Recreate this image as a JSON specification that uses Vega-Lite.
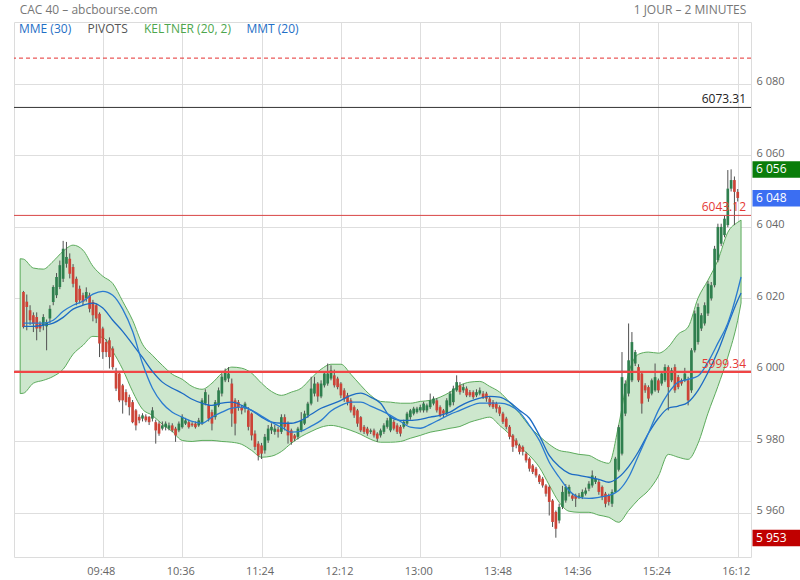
{
"$schema": "https://vega.github.io/schema/vega-lite/v6.json",
"width": 737, "height": 535,
"autosize": "none",
"padding": {"left": 14, "top": 22, "right": 49, "bottom": 23},
"background": "#ffffff",
"config": {
  "view": {"stroke": "#dcdcdc"},
  "font": "Open Sans",
  "locale": {"number": {"decimal": ".", "thousands": " ", "grouping": [3], "currency": ["", ""]}}
},
"datasets": {
"candles": [
{"t":540,"o":6021.7,"h":6022.0,"l":6011.5,"c":6011.9},
{"t":542,"o":6019.0,"h":6021.0,"l":6011.0,"c":6017.5},
{"t":544,"o":6016.6,"h":6018.0,"l":6012.5,"c":6013.8},
{"t":546,"o":6015.2,"h":6016.0,"l":6010.5,"c":6012.8},
{"t":548,"o":6014.7,"h":6016.0,"l":6008.2,"c":6011.5},
{"t":550,"o":6012.8,"h":6013.5,"l":6010.5,"c":6011.5},
{"t":552,"o":6012.4,"h":6015.5,"l":6011.0,"c":6014.7},
{"t":554,"o":6012.1,"h":6014.0,"l":6005.4,"c":6013.3},
{"t":556,"o":6014.3,"h":6018.0,"l":6013.0,"c":6017.0},
{"t":558,"o":6018.9,"h":6023.6,"l":6018.0,"c":6023.1},
{"t":560,"o":6020.8,"h":6027.0,"l":6020.0,"c":6025.9},
{"t":562,"o":6023.1,"h":6030.5,"l":6022.5,"c":6029.2},
{"t":564,"o":6025.4,"h":6036.0,"l":6024.5,"c":6033.8},
{"t":566,"o":6029.6,"h":6035.7,"l":6028.5,"c":6031.5},
{"t":568,"o":6031.0,"h":6032.5,"l":6025.5,"c":6026.8},
{"t":570,"o":6028.7,"h":6029.5,"l":6023.0,"c":6024.0},
{"t":572,"o":6025.4,"h":6026.0,"l":6018.0,"c":6018.9},
{"t":574,"o":6022.6,"h":6023.5,"l":6018.5,"c":6019.4},
{"t":576,"o":6020.8,"h":6021.5,"l":6018.0,"c":6018.9},
{"t":578,"o":6019.9,"h":6023.0,"l":6019.0,"c":6021.7},
{"t":580,"o":6020.8,"h":6021.5,"l":6016.0,"c":6017.0},
{"t":582,"o":6018.9,"h":6019.5,"l":6013.5,"c":6015.2},
{"t":584,"o":6018.0,"h":6018.5,"l":6013.0,"c":6014.3},
{"t":586,"o":6015.6,"h":6016.0,"l":6003.5,"c":6007.3},
{"t":588,"o":6011.5,"h":6012.0,"l":6003.0,"c":6004.9},
{"t":590,"o":6007.7,"h":6008.5,"l":6003.5,"c":6004.9},
{"t":592,"o":6008.2,"h":6009.0,"l":6000.3,"c":6003.5},
{"t":594,"o":6005.9,"h":6006.5,"l":6000.0,"c":6000.7},
{"t":596,"o":5999.3,"h":6000.5,"l":5994.0,"c":5994.7},
{"t":598,"o":5998.9,"h":5999.5,"l":5990.9,"c":5991.4},
{"t":600,"o":5995.6,"h":5996.0,"l":5987.7,"c":5991.4},
{"t":602,"o":5993.7,"h":5994.5,"l":5990.0,"c":5990.9},
{"t":604,"o":5992.3,"h":5993.0,"l":5987.2,"c":5989.5},
{"t":606,"o":5990.9,"h":5991.5,"l":5985.0,"c":5985.3},
{"t":608,"o":5988.6,"h":5989.0,"l":5983.0,"c":5984.4},
{"t":610,"o":5986.8,"h":5987.5,"l":5985.0,"c":5985.8},
{"t":612,"o":5986.3,"h":5987.8,"l":5985.5,"c":5987.2},
{"t":614,"o":5986.9,"h":5987.5,"l":5985.3,"c":5985.8},
{"t":616,"o":5986.8,"h":5987.0,"l":5984.5,"c":5985.3},
{"t":618,"o":5986.3,"h":5989.5,"l":5985.5,"c":5988.6},
{"t":620,"o":5985.3,"h":5986.0,"l":5979.3,"c":5983.0},
{"t":622,"o":5984.9,"h":5985.5,"l":5981.5,"c":5982.1},
{"t":624,"o":5983.5,"h":5985.5,"l":5983.0,"c":5984.4},
{"t":626,"o":5983.9,"h":5985.5,"l":5983.0,"c":5984.9},
{"t":628,"o":5983.5,"h":5985.2,"l":5983.0,"c":5984.4},
{"t":630,"o":5984.4,"h":5985.0,"l":5982.5,"c":5983.0},
{"t":632,"o":5983.5,"h":5984.0,"l":5979.8,"c":5981.6},
{"t":634,"o":5983.0,"h":5985.5,"l":5982.5,"c":5984.9},
{"t":636,"o":5983.9,"h":5987.5,"l":5983.5,"c":5986.8},
{"t":638,"o":5984.9,"h":5986.5,"l":5984.5,"c":5985.8},
{"t":640,"o":5985.3,"h":5986.0,"l":5983.5,"c":5983.9},
{"t":642,"o":5984.9,"h":5985.3,"l":5984.0,"c":5984.4},
{"t":644,"o":5984.9,"h":5985.5,"l":5983.5,"c":5983.9},
{"t":646,"o":5984.4,"h":5986.5,"l":5984.0,"c":5985.8},
{"t":648,"o":5984.9,"h":5992.0,"l":5984.5,"c":5991.4},
{"t":650,"o":5990.5,"h":5994.5,"l":5990.0,"c":5993.7},
{"t":652,"o":5990.0,"h":5993.0,"l":5985.5,"c":5986.3},
{"t":654,"o":5988.1,"h":5988.8,"l":5983.0,"c":5984.9},
{"t":656,"o":5986.7,"h":5991.5,"l":5986.0,"c":5990.9},
{"t":658,"o":5990.0,"h":5995.0,"l":5989.5,"c":5994.2},
{"t":660,"o":5993.3,"h":5998.8,"l":5992.5,"c":5998.0},
{"t":662,"o":5997.0,"h":6000.3,"l":5996.5,"c":5999.3},
{"t":664,"o":5997.5,"h":6000.7,"l":5996.5,"c":5998.9},
{"t":666,"o":5996.1,"h":5997.5,"l":5984.0,"c":5987.7},
{"t":668,"o":5991.4,"h":5992.0,"l":5981.6,"c":5984.9},
{"t":670,"o":5990.9,"h":5991.5,"l":5988.5,"c":5989.5},
{"t":672,"o":5989.5,"h":5990.0,"l":5987.5,"c":5988.6},
{"t":674,"o":5989.1,"h":5991.0,"l":5988.0,"c":5990.5},
{"t":676,"o":5988.6,"h":5989.5,"l":5983.0,"c":5984.0},
{"t":678,"o":5987.7,"h":5988.0,"l":5980.2,"c":5981.6},
{"t":680,"o":5982.1,"h":5983.0,"l":5977.5,"c":5978.4},
{"t":682,"o":5979.3,"h":5980.0,"l":5974.6,"c":5976.0},
{"t":684,"o":5978.8,"h":5979.5,"l":5975.0,"c":5976.5},
{"t":686,"o":5977.4,"h":5982.0,"l":5976.5,"c":5981.2},
{"t":688,"o":5980.2,"h":5984.5,"l":5979.5,"c":5983.5},
{"t":690,"o":5983.0,"h":5985.0,"l":5982.0,"c":5984.0},
{"t":692,"o":5982.6,"h":5984.5,"l":5981.8,"c":5983.5},
{"t":694,"o":5983.3,"h":5984.0,"l":5981.0,"c":5982.6},
{"t":696,"o":5982.6,"h":5987.5,"l":5982.0,"c":5986.7},
{"t":698,"o":5986.7,"h":5987.5,"l":5983.0,"c":5984.0},
{"t":700,"o":5984.9,"h":5985.5,"l":5979.3,"c":5981.6},
{"t":702,"o":5983.0,"h":5983.5,"l":5979.0,"c":5979.8},
{"t":704,"o":5981.6,"h":5982.0,"l":5980.0,"c":5980.7},
{"t":706,"o":5981.2,"h":5984.0,"l":5980.5,"c":5983.5},
{"t":708,"o":5983.0,"h":5988.1,"l":5982.5,"c":5985.8},
{"t":710,"o":5984.9,"h":5988.5,"l":5984.5,"c":5987.7},
{"t":712,"o":5987.2,"h":5991.0,"l":5986.5,"c":5990.5},
{"t":714,"o":5990.5,"h":5998.0,"l":5990.0,"c":5994.7},
{"t":716,"o":5993.3,"h":5998.0,"l":5992.5,"c":5996.1},
{"t":718,"o":5996.1,"h":5996.5,"l":5991.0,"c":5992.5},
{"t":720,"o":5992.5,"h":5997.0,"l":5992.0,"c":5996.1},
{"t":722,"o":5995.6,"h":5999.5,"l":5995.0,"c":5998.9},
{"t":724,"o":5996.1,"h":6001.7,"l":5995.5,"c":5998.9},
{"t":726,"o":5997.5,"h":6001.2,"l":5997.0,"c":5999.8},
{"t":728,"o":5998.4,"h":6000.0,"l":5995.0,"c":5995.6},
{"t":730,"o":5997.5,"h":5998.0,"l":5994.5,"c":5995.1},
{"t":732,"o":5996.1,"h":5996.5,"l":5992.0,"c":5992.8},
{"t":734,"o":5994.2,"h":5994.8,"l":5991.0,"c":5991.9},
{"t":736,"o":5992.8,"h":5993.5,"l":5990.0,"c":5990.9},
{"t":738,"o":5991.4,"h":5992.0,"l":5988.0,"c":5988.6},
{"t":740,"o":5989.5,"h":5990.0,"l":5986.5,"c":5987.2},
{"t":742,"o":5988.6,"h":5989.0,"l":5984.0,"c":5984.9},
{"t":744,"o":5986.7,"h":5987.0,"l":5982.5,"c":5983.0},
{"t":746,"o":5984.0,"h":5984.5,"l":5982.0,"c":5982.6},
{"t":748,"o":5983.5,"h":5984.0,"l":5981.5,"c":5982.1},
{"t":750,"o":5982.6,"h":5983.5,"l":5982.0,"c":5983.0},
{"t":752,"o":5983.0,"h":5983.5,"l":5981.0,"c":5981.6},
{"t":754,"o":5982.1,"h":5982.5,"l":5979.8,"c":5980.7},
{"t":756,"o":5981.6,"h":5983.5,"l":5981.0,"c":5983.0},
{"t":758,"o":5982.6,"h":5985.0,"l":5982.0,"c":5984.4},
{"t":760,"o":5984.0,"h":5986.5,"l":5983.5,"c":5985.8},
{"t":762,"o":5983.0,"h":5987.2,"l":5982.5,"c":5986.7},
{"t":764,"o":5985.4,"h":5986.0,"l":5983.0,"c":5983.5},
{"t":766,"o":5984.4,"h":5985.0,"l":5982.0,"c":5982.6},
{"t":768,"o":5984.0,"h":5984.5,"l":5981.3,"c":5982.1},
{"t":770,"o":5984.0,"h":5986.0,"l":5983.5,"c":5985.4},
{"t":772,"o":5984.9,"h":5988.2,"l":5984.5,"c":5987.7},
{"t":774,"o":5986.7,"h":5989.0,"l":5986.0,"c":5988.6},
{"t":776,"o":5987.7,"h":5989.6,"l":5987.2,"c":5989.1},
{"t":778,"o":5988.1,"h":5989.6,"l":5987.7,"c":5989.1},
{"t":780,"o":5988.6,"h":5990.2,"l":5988.0,"c":5989.5},
{"t":782,"o":5988.6,"h":5991.0,"l":5988.0,"c":5990.5},
{"t":784,"o":5988.6,"h":5990.5,"l":5988.0,"c":5990.0},
{"t":786,"o":5989.5,"h":5993.3,"l":5989.0,"c":5991.4},
{"t":788,"o":5990.5,"h":5992.5,"l":5990.0,"c":5991.9},
{"t":790,"o":5991.4,"h":5992.0,"l":5988.0,"c":5988.6},
{"t":792,"o":5989.5,"h":5990.0,"l":5986.7,"c":5987.2},
{"t":794,"o":5988.6,"h":5989.0,"l":5986.7,"c":5987.7},
{"t":796,"o":5987.7,"h":5992.0,"l":5987.2,"c":5991.4},
{"t":798,"o":5990.0,"h":5994.0,"l":5989.5,"c":5993.3},
{"t":800,"o":5990.9,"h":5995.5,"l":5990.0,"c":5994.7},
{"t":802,"o":5994.2,"h":5998.4,"l":5993.8,"c":5996.5},
{"t":804,"o":5995.6,"h":5996.5,"l":5993.0,"c":5993.7},
{"t":806,"o":5994.2,"h":5996.0,"l":5993.5,"c":5995.1},
{"t":808,"o":5994.7,"h":5995.3,"l":5992.3,"c":5992.8},
{"t":810,"o":5993.7,"h":5994.3,"l":5992.3,"c":5992.8},
{"t":812,"o":5993.7,"h":5994.2,"l":5991.8,"c":5992.3},
{"t":814,"o":5992.8,"h":5994.5,"l":5992.3,"c":5993.7},
{"t":816,"o":5993.3,"h":5995.0,"l":5992.8,"c":5994.2},
{"t":818,"o":5993.3,"h":5994.0,"l":5991.8,"c":5992.3},
{"t":820,"o":5993.3,"h":5993.8,"l":5991.0,"c":5991.9},
{"t":822,"o":5991.9,"h":5992.5,"l":5989.5,"c":5990.0},
{"t":824,"o":5990.9,"h":5991.5,"l":5989.0,"c":5989.5},
{"t":826,"o":5990.5,"h":5991.0,"l":5988.0,"c":5989.1},
{"t":828,"o":5989.5,"h":5990.0,"l":5987.0,"c":5987.7},
{"t":830,"o":5987.7,"h":5988.2,"l":5984.8,"c":5985.4},
{"t":832,"o":5986.3,"h":5986.8,"l":5983.3,"c":5984.0},
{"t":834,"o":5984.0,"h":5984.5,"l":5980.5,"c":5981.2},
{"t":836,"o":5981.6,"h":5982.0,"l":5977.0,"c":5978.4},
{"t":838,"o":5980.2,"h":5980.8,"l":5978.0,"c":5978.8},
{"t":840,"o":5978.8,"h":5979.3,"l":5976.3,"c":5977.0},
{"t":842,"o":5978.4,"h":5978.8,"l":5976.0,"c":5977.0},
{"t":844,"o":5976.5,"h":5977.0,"l":5974.0,"c":5974.6},
{"t":846,"o":5975.1,"h":5975.5,"l":5971.5,"c":5972.3},
{"t":848,"o":5973.2,"h":5973.6,"l":5970.8,"c":5971.4},
{"t":850,"o":5972.3,"h":5972.8,"l":5969.8,"c":5970.4},
{"t":852,"o":5970.4,"h":5970.8,"l":5968.0,"c":5968.6},
{"t":854,"o":5969.5,"h":5970.0,"l":5967.0,"c":5967.6},
{"t":856,"o":5967.6,"h":5968.0,"l":5964.5,"c":5965.3},
{"t":858,"o":5967.2,"h":5967.6,"l":5959.2,"c":5963.0},
{"t":860,"o":5963.4,"h":5963.8,"l":5956.0,"c":5957.4},
{"t":862,"o":5960.2,"h":5960.6,"l":5953.0,"c":5955.5},
{"t":864,"o":5957.8,"h":5962.5,"l":5957.0,"c":5961.6},
{"t":866,"o":5961.6,"h":5967.5,"l":5961.0,"c":5965.8},
{"t":868,"o":5963.4,"h":5968.0,"l":5962.8,"c":5967.2},
{"t":870,"o":5965.3,"h":5967.8,"l":5964.5,"c":5967.2},
{"t":872,"o":5964.8,"h":5965.5,"l":5963.3,"c":5963.9},
{"t":874,"o":5964.8,"h":5965.3,"l":5961.6,"c":5963.9},
{"t":876,"o":5964.4,"h":5965.5,"l":5963.8,"c":5964.8},
{"t":878,"o":5964.4,"h":5966.5,"l":5963.8,"c":5965.8},
{"t":880,"o":5965.3,"h":5967.0,"l":5964.8,"c":5966.2},
{"t":882,"o":5966.7,"h":5968.8,"l":5966.0,"c":5968.1},
{"t":884,"o":5967.6,"h":5971.8,"l":5967.0,"c":5970.4},
{"t":886,"o":5968.6,"h":5970.2,"l":5968.0,"c":5969.5},
{"t":888,"o":5968.6,"h":5969.2,"l":5965.0,"c":5965.8},
{"t":890,"o":5967.2,"h":5967.6,"l":5963.5,"c":5964.4},
{"t":892,"o":5965.3,"h":5965.8,"l":5961.5,"c":5962.5},
{"t":894,"o":5964.8,"h":5965.3,"l":5962.0,"c":5963.0},
{"t":896,"o":5962.5,"h":5966.5,"l":5961.6,"c":5965.8},
{"t":898,"o":5965.8,"h":5975.6,"l":5965.5,"c":5975.1},
{"t":900,"o":5972.0,"h":5984.5,"l":5971.5,"c":5983.9},
{"t":902,"o":5976.5,"h":6004.9,"l":5976.0,"c":5997.9},
{"t":904,"o":5987.7,"h":5997.0,"l":5987.0,"c":5996.1},
{"t":906,"o":5993.3,"h":6012.9,"l":5992.5,"c":6002.6},
{"t":908,"o":5997.0,"h":6010.5,"l":5996.5,"c":6007.7},
{"t":910,"o":6001.7,"h":6005.5,"l":6001.0,"c":6004.9},
{"t":912,"o":6000.7,"h":6001.5,"l":5996.5,"c":5997.0},
{"t":914,"o":5998.9,"h":5999.5,"l":5987.7,"c":5990.5},
{"t":916,"o":5995.6,"h":5996.2,"l":5993.5,"c":5994.2},
{"t":918,"o":5995.1,"h":5995.6,"l":5991.0,"c":5991.9},
{"t":920,"o":5993.3,"h":5997.5,"l":5992.8,"c":5997.0},
{"t":922,"o":5994.2,"h":6001.7,"l":5993.8,"c":5997.9},
{"t":924,"o":5997.0,"h":5997.5,"l":5993.5,"c":5994.2},
{"t":926,"o":5996.1,"h":5999.5,"l":5995.5,"c":5998.9},
{"t":928,"o":5997.0,"h":6001.5,"l":5996.5,"c":6000.7},
{"t":930,"o":6000.7,"h":6001.2,"l":5988.6,"c":5995.1},
{"t":932,"o":5997.0,"h":6000.5,"l":5996.5,"c":5999.8},
{"t":934,"o":6000.7,"h":6001.5,"l":5993.5,"c":5994.2},
{"t":936,"o":5997.9,"h":5998.5,"l":5994.5,"c":5995.1},
{"t":938,"o":5997.0,"h":5997.5,"l":5995.5,"c":5996.1},
{"t":940,"o":5997.0,"h":6000.5,"l":5996.5,"c":5998.9},
{"t":942,"o":5997.0,"h":5998.0,"l":5990.0,"c":5991.4},
{"t":944,"o":5994.2,"h":6006.0,"l":5993.5,"c":6005.4},
{"t":946,"o":6005.4,"h":6016.5,"l":6004.8,"c":6015.7},
{"t":948,"o":6007.7,"h":6018.5,"l":6007.0,"c":6017.5},
{"t":950,"o":6011.5,"h":6015.8,"l":6010.8,"c":6015.2},
{"t":952,"o":6012.9,"h":6018.8,"l":6012.3,"c":6018.0},
{"t":954,"o":6015.7,"h":6024.8,"l":6015.0,"c":6024.0},
{"t":956,"o":6019.9,"h":6024.5,"l":6019.3,"c":6023.6},
{"t":958,"o":6023.6,"h":6034.6,"l":6023.0,"c":6033.8},
{"t":960,"o":6030.6,"h":6040.8,"l":6030.0,"c":6039.9},
{"t":962,"o":6035.2,"h":6040.8,"l":6034.5,"c":6039.9},
{"t":964,"o":6037.6,"h":6043.0,"l":6037.0,"c":6042.2},
{"t":966,"o":6040.4,"h":6055.8,"l":6039.8,"c":6050.6},
{"t":968,"o":6050.6,"h":6056.0,"l":6049.8,"c":6053.0},
{"t":970,"o":6053.0,"h":6054.0,"l":6040.4,"c":6049.7},
{"t":972,"o":6049.7,"h":6050.5,"l":6047.0,"c":6048.0}
],
"ind": [
{"t":538,"ku":6031.0,"kl":5993.3},
{"t":540,"ku":6030.9,"kl":5993.4,"mmt":6013.0,"mme":6012.1},
{"t":546,"ku":6028.4,"kl":5996.2,"mmt":6013.0,"mme":6012.1},
{"t":552,"ku":6028.1,"kl":5997.0,"mmt":6013.0,"mme":6012.4},
{"t":558,"ku":6030.3,"kl":5998.1,"mmt":6013.8,"mme":6013.0},
{"t":564,"ku":6033.1,"kl":6000.1,"mmt":6016.3,"mme":6014.6},
{"t":570,"ku":6034.8,"kl":6004.3,"mmt":6018.0,"mme":6016.9},
{"t":576,"ku":6033.4,"kl":6006.8,"mmt":6019.1,"mme":6018.0},
{"t":582,"ku":6028.9,"kl":6009.3,"mmt":6021.1,"mme":6018.6},
{"t":588,"ku":6026.1,"kl":6009.0,"mmt":6021.9,"mme":6017.2},
{"t":594,"ku":6024.1,"kl":6005.1,"mmt":6020.8,"mme":6013.8},
{"t":600,"ku":6019.1,"kl":6000.1,"mmt":6016.9,"mme":6010.7},
{"t":606,"ku":6013.8,"kl":5993.9,"mmt":6010.7,"mme":6007.1},
{"t":612,"ku":6007.1,"kl":5988.9,"mmt":6001.7,"mme":6003.4},
{"t":618,"ku":6004.0,"kl":5987.2,"mmt":5994.8,"mme":5999.5},
{"t":624,"ku":6001.2,"kl":5984.7,"mmt":5990.6,"mme":5996.5},
{"t":630,"ku":5998.7,"kl":5982.7,"mmt":5988.1,"mme":5994.8},
{"t":636,"ku":5997.3,"kl":5980.2,"mmt":5986.7,"mme":5993.4},
{"t":642,"ku":5995.3,"kl":5979.9,"mmt":5985.5,"mme":5991.7},
{"t":648,"ku":5994.5,"kl":5980.2,"mmt":5985.0,"mme":5990.6},
{"t":654,"ku":5996.2,"kl":5980.2,"mmt":5986.7,"mme":5990.0},
{"t":660,"ku":5999.0,"kl":5979.9,"mmt":5988.1,"mme":5990.6},
{"t":666,"ku":6000.7,"kl":5979.7,"mmt":5989.2,"mme":5990.9},
{"t":672,"ku":6000.4,"kl":5979.1,"mmt":5989.5,"mme":5990.0},
{"t":678,"ku":5999.0,"kl":5977.4,"mmt":5988.6,"mme":5988.6},
{"t":684,"ku":5996.2,"kl":5975.5,"mmt":5987.0,"mme":5986.7},
{"t":690,"ku":5993.9,"kl":5975.8,"mmt":5985.3,"mme":5985.3},
{"t":696,"ku":5992.8,"kl":5977.1,"mmt":5983.9,"mme":5985.0},
{"t":702,"ku":5993.7,"kl":5979.4,"mmt":5982.5,"mme":5985.0},
{"t":708,"ku":5994.8,"kl":5981.3,"mmt":5982.8,"mme":5985.8},
{"t":714,"ku":5997.6,"kl":5982.7,"mmt":5984.2,"mme":5987.5},
{"t":720,"ku":6000.1,"kl":5983.9,"mmt":5985.8,"mme":5989.2},
{"t":726,"ku":6001.5,"kl":5984.4,"mmt":5988.4,"mme":5990.3},
{"t":732,"ku":6001.5,"kl":5983.9,"mmt":5990.0,"mme":5991.4},
{"t":738,"ku":5998.7,"kl":5983.0,"mmt":5990.9,"mme":5992.8},
{"t":744,"ku":5995.6,"kl":5981.9,"mmt":5990.9,"mme":5993.4},
{"t":750,"ku":5992.8,"kl":5980.5,"mmt":5989.8,"mme":5992.3},
{"t":756,"ku":5991.1,"kl":5979.7,"mmt":5988.6,"mme":5990.6},
{"t":762,"ku":5990.9,"kl":5979.7,"mmt":5987.2,"mme":5986.7},
{"t":768,"ku":5990.6,"kl":5979.9,"mmt":5985.5,"mme":5985.8},
{"t":774,"ku":5990.6,"kl":5980.8,"mmt":5983.9,"mme":5985.8},
{"t":780,"ku":5991.1,"kl":5981.6,"mmt":5983.6,"mme":5986.1},
{"t":786,"ku":5991.4,"kl":5982.5,"mmt":5984.7,"mme":5986.7},
{"t":792,"ku":5992.3,"kl":5983.0,"mmt":5986.1,"mme":5987.2},
{"t":798,"ku":5993.7,"kl":5983.6,"mmt":5987.5,"mme":5988.1},
{"t":804,"ku":5995.6,"kl":5984.1,"mmt":5988.6,"mme":5989.8},
{"t":810,"ku":5996.5,"kl":5985.3,"mmt":5989.8,"mme":5991.1},
{"t":816,"ku":5996.7,"kl":5986.1,"mmt":5990.6,"mme":5992.0},
{"t":822,"ku":5995.3,"kl":5986.7,"mmt":5990.6,"mme":5992.5},
{"t":828,"ku":5993.7,"kl":5984.4,"mmt":5990.6,"mme":5992.3},
{"t":834,"ku":5990.9,"kl":5981.9,"mmt":5990.0,"mme":5990.9},
{"t":840,"ku":5987.8,"kl":5978.5,"mmt":5988.1,"mme":5988.6},
{"t":846,"ku":5984.2,"kl":5976.0,"mmt":5984.4,"mme":5986.4},
{"t":852,"ku":5981.4,"kl":5972.7,"mmt":5980.2,"mme":5981.6},
{"t":858,"ku":5979.1,"kl":5967.7,"mmt":5974.1,"mme":5976.0},
{"t":864,"ku":5977.4,"kl":5962.9,"mmt":5969.9,"mme":5972.9},
{"t":870,"ku":5976.9,"kl":5960.4,"mmt":5966.2,"mme":5971.0},
{"t":876,"ku":5976.3,"kl":5960.1,"mmt":5964.3,"mme":5970.4},
{"t":882,"ku":5976.0,"kl":5960.1,"mmt":5964.0,"mme":5969.9},
{"t":888,"ku":5974.6,"kl":5959.3,"mmt":5964.3,"mme":5969.3},
{"t":894,"ku":5973.8,"kl":5958.7,"mmt":5964.8,"mme":5968.5},
{"t":900,"ku":5984.5,"kl":5957.3,"mmt":5966.2,"mme":5969.9},
{"t":906,"ku":5999.0,"kl":5960.6,"mmt":5969.9,"mme":5972.9},
{"t":912,"ku":6004.3,"kl":5963.7,"mmt":5976.0,"mme":5977.1},
{"t":918,"ku":6004.9,"kl":5966.2,"mmt":5982.2,"mme":5982.2},
{"t":924,"ku":6004.6,"kl":5970.2,"mmt":5988.6,"mme":5986.4},
{"t":930,"ku":6006.3,"kl":5976.3,"mmt":5993.4,"mme":5989.2},
{"t":936,"ku":6009.9,"kl":5975.5,"mmt":5996.5,"mme":5989.8},
{"t":942,"ku":6011.9,"kl":5974.9,"mmt":5997.3,"mme":5990.9},
{"t":948,"ku":6020.0,"kl":5979.4,"mmt":5998.2,"mme":5994.2},
{"t":954,"ku":6025.0,"kl":5987.8,"mmt":6002.1,"mme":5999.2},
{"t":960,"ku":6030.6,"kl":5995.3,"mmt":6007.4,"mme":6005.1},
{"t":966,"ku":6038.4,"kl":6003.5,"mmt":6013.0,"mme":6012.4},
{"t":972,"ku":6041.2,"kl":6013.8,"mmt":6022.2,"mme":6019.4},
{"t":974,"ku":6041.8,"kl":6018.6,"mmt":6025.9,"mme":6021.4}
],
"tags": [
{"price": 6056, "kind": "high"},
{"price": 6048, "kind": "last"},
{"price": 5953, "kind": "low"}
]
},
"layer": [
{
"data": {"name": "ind"},
"mark": {"type": "area", "fill": "#cde7cd", "stroke": "#5cab5c", "strokeWidth": 1, "interpolate": "monotone"},
"encoding": {
  "x": {"field": "t", "type": "quantitative", "scale": {"domain": [537.3, 977], "nice": false, "zero": false},
        "axis": {"orient": "bottom", "values": [588, 636, 684, 732, 780, 828, 876, 924, 972], "labelExpr": "utcFormat(datum.value * 60000, '%H:%M')", "grid": true, "gridColor": "#dedede", "domain": false, "ticks": false, "labelPadding": 8, "labelColor": "#666666", "labelFontSize": 11, "labelFont": "Open Sans", "labelOffset": -2, "title": null}},
  "y": {"field": "ku", "type": "quantitative", "scale": {"domain": [5947.6, 6097.2], "nice": false, "zero": false},
        "axis": {"orient": "right", "values": [5960, 5980, 6000, 6020, 6040, 6060, 6080], "labelExpr": "replace(format(datum.value, ',.0f'), ',', ' ')", "grid": true, "gridColor": "#dedede", "domain": false, "ticks": false, "labelPadding": 5, "labelOffset": -2, "labelColor": "#666666", "labelFontSize": 11, "labelFont": "Open Sans", "labelBaseline": "middle", "labelAlign": "left", "title": null}},
  "y2": {"field": "kl"}
}
},
{
"data": {"name": "candles"},
"mark": {"type": "rule", "strokeWidth": 1, "color": "#505050"},
"encoding": {
  "x": {"field": "t", "type": "quantitative", "axis": null},
  "y": {"field": "l", "type": "quantitative", "axis": null},
  "y2": {"field": "h"}
}
},
{
"data": {"name": "candles"},
"mark": {"type": "bar", "width": 2.7},
"encoding": {
  "x": {"field": "t", "type": "quantitative", "axis": null},
  "y": {"field": "o", "type": "quantitative", "axis": null},
  "y2": {"field": "c"},
  "color": {"condition": {"test": "datum.c >= datum.o", "value": "#2f7f4e"}, "value": "#cc4438"}
}
},
{
"data": {"values": [{"v": 6087.1}]},
"mark": {"type": "rule", "color": "#e53030", "strokeWidth": 1, "strokeDash": [4, 3]},
"encoding": {"y": {"field": "v", "type": "quantitative", "axis": null}}
},
{
"data": {"values": [{"v": 6073.31}]},
"mark": {"type": "rule", "color": "#333333", "strokeWidth": 1},
"encoding": {"y": {"field": "v", "type": "quantitative", "axis": null}}
},
{
"data": {"values": [{"v": 6043.12}]},
"mark": {"type": "rule", "color": "#d84545", "strokeWidth": 1},
"encoding": {"y": {"field": "v", "type": "quantitative", "axis": null}}
},
{
"data": {"values": [{"v": 5999.34}]},
"mark": {"type": "rule", "color": "#f04545", "strokeWidth": 2.2},
"encoding": {"y": {"field": "v", "type": "quantitative", "axis": null}}
},
{
"data": {"name": "ind"},
"transform": [{"fold": ["mme", "mmt"], "as": ["serie", "val"]}],
"mark": {"type": "line", "strokeWidth": 1.3, "interpolate": "monotone"},
"encoding": {
  "x": {"field": "t", "type": "quantitative",
        "axis": {"orient": "top", "values": [537.4, 976.9],
                 "labelExpr": "datum.value < 700 ? 'CAC 40 – abcbourse.com' : '1 JOUR – 2 MINUTES'",
                 "labelAlign": {"condition": {"test": "datum.value < 700", "value": "left"}, "value": "right"},
                 "labelFlush": false, "labelOverlap": false, "labelBound": false,
                 "ticks": false, "domain": false, "grid": false, "labelPadding": 9, "labelBaseline": "alphabetic",
                 "labelFontSize": 12, "labelColor": "#777777", "labelFont": "Open Sans", "title": null}},
  "y": {"field": "val", "type": "quantitative", "axis": null},
  "color": {"field": "serie", "type": "nominal",
            "scale": {"domain": ["mme", "pivots", "keltner", "mmt"], "range": ["#1c6bc4", "#666666", "#55a855", "#2a7bd0"]},
            "legend": {"orient": "none", "legendX": -7, "legendY": 1, "direction": "horizontal", "title": null, "symbolSize": 0, "symbolStrokeWidth": 0, "symbolOpacity": 0, "labelOffset": 0, "columnPadding": 3.5, "padding": 0, "labelFontSize": 12, "labelFont": "Open Sans",
                       "labelExpr": "datum.label == 'mme' ? 'MME (30)' : datum.label == 'pivots' ? 'PIVOTS' : datum.label == 'keltner' ? 'KELTNER (20, 2)' : 'MMT (20)'",
                       "labelColor": {"expr": "datum.value == 'pivots' ? '#555555' : datum.value == 'keltner' ? '#4da64d' : '#1f6fc6'"}}}
}
},
{
"data": {"values": [{"v": 6073.31, "kind": "pivot"}, {"v": 6043.12, "kind": "support"}, {"v": 5999.34, "kind": "support"}]},
"mark": {"type": "text", "align": "right", "baseline": "bottom", "dx": -5, "dy": -1, "fontSize": 12, "font": "Open Sans"},
"encoding": {
  "x": {"value": "width"},
  "y": {"field": "v", "type": "quantitative", "axis": null},
  "text": {"field": "v", "type": "quantitative", "format": ".2f"},
  "color": {"condition": {"test": "datum.kind == 'pivot'", "value": "#222222"}, "value": "#e53935"}
}
},
{
"data": {"name": "tags"},
"mark": {"type": "rect", "xOffset": 1.5, "x2Offset": 49, "yOffset": -8, "y2Offset": 8.5},
"encoding": {
  "x": {"value": "width"},
  "x2": {"value": "width"},
  "y": {"field": "price", "type": "quantitative", "axis": null},
  "y2": {"field": "price"},
  "fill": {"condition": [{"test": "datum.kind == 'high'", "value": "#0a7d0a"}, {"test": "datum.kind == 'last'", "value": "#3b6ef2"}], "value": "#c00000"}
}
},
{
"data": {"name": "tags"},
"mark": {"type": "text", "align": "left", "baseline": "middle", "dx": 5, "fontSize": 12, "font": "Open Sans", "color": "#ffffff"},
"encoding": {
  "x": {"value": "width"},
  "y": {"field": "price", "type": "quantitative", "axis": null},
  "text": {"field": "price", "type": "quantitative", "format": ","}
}
}
],
"resolve": {"axis": {"x": "independent", "y": "independent"}}
}
